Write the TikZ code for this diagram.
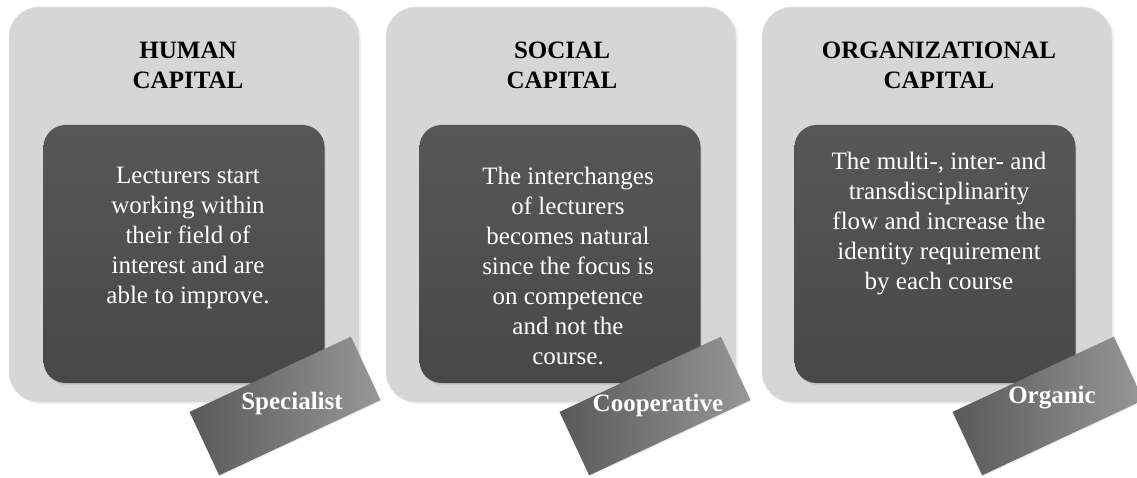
\documentclass[tikz,border=0pt]{standalone}
\usepackage{fontspec}
\setmainfont{Liberation Serif}
\usetikzlibrary{positioning}
\usetikzlibrary{shadows}
\definecolor{panelgray}{HTML}{D6D6D6}
\definecolor{cardtop}{HTML}{575757}
\definecolor{carddark}{HTML}{484848}
\definecolor{taglight}{HTML}{979797}
\definecolor{tagdark}{HTML}{595959}
\tikzset{
    capbox/.style = {rectangle, rounded corners=30pt, fill=panelgray, draw=gray!20, minimum width=350pt, minimum height=395pt, drop shadow={opacity=0.12,shadow xshift=2pt,shadow yshift=-2pt}},
    cardbox/.style = {rectangle, rounded corners=22pt, top color=cardtop, bottom color=carddark, minimum width=281pt, minimum height=258pt, drop shadow={opacity=0.2,shadow xshift=1pt,shadow yshift=-2pt}},
    tagbox/.style = {rectangle, rotate=25, left color=tagdark, right color=taglight, minimum width=178pt, minimum height=70pt, drop shadow={opacity=0.15,shadow xshift=1pt,shadow yshift=-1pt}},
    captitle/.style = {align=center, text=black, font=\fontsize{25}{30}\selectfont\bfseries},
    cardtext/.style = {align=center, text=white, font=\fontsize{25}{30}\selectfont},
    tagtext/.style = {text=white, font=\fontsize{25}{30}\selectfont\bfseries}
}
\begin{document}
\begin{tikzpicture}[x=1pt,y=1pt]
  \useasboundingbox (0,0) rectangle (1137,477);

  % human capital
  \node[capbox] (human) at (184,272.5) {};
  \node[cardbox] (human-card) at (184,223) {};
  \node[captitle] (human-head) at (188,412) {HUMAN\\CAPITAL};
  \node[cardtext] (human-text) at (188,239.5) {Lecturers start\\working within\\their field of\\interest and are\\able to improve.};
  \node[tagbox] (human-tag) at (285,71) {};
  \node[tagtext] (human-label) at (292,74) {Specialist};

  % social capital
  \node[capbox] (social) at (561,272.5) {};
  \node[cardbox] (social-card) at (560,223) {};
  \node[captitle] (social-head) at (562,412) {SOCIAL\\CAPITAL};
  \node[cardtext] (social-text) at (568,211) {The interchanges\\of lecturers\\becomes natural\\since the focus is\\on competence\\and not the\\course.};
  \node[tagbox] (social-tag) at (655,71) {};
  \node[tagtext] (social-label) at (658,72) {Cooperative};

  % organizational capital
  \node[capbox] (orgcap) at (937,272.5) {};
  \node[cardbox] (orgcap-card) at (935,223) {};
  \node[captitle] (orgcap-head) at (939,412) {ORGANIZATIONAL\\CAPITAL};
  \node[cardtext] (orgcap-text) at (939,253) {The multi-, inter- and\\transdisciplinarity\\flow and increase the\\identity requirement\\by each course};
  \node[tagbox] (orgcap-tag) at (1048,71) {};
  \node[tagtext] (orgcap-label) at (1052,79) {Organic};

\end{tikzpicture}
\end{document}
